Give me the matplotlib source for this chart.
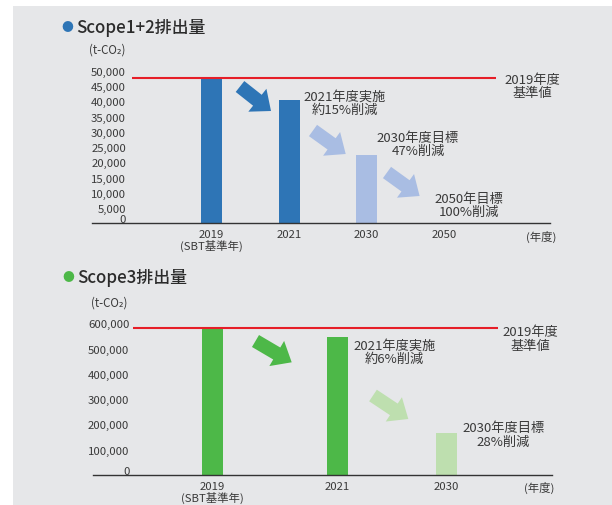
import matplotlib
matplotlib.use("Agg")
import matplotlib.pyplot as plt
from matplotlib.patches import Rectangle, FancyArrowPatch
from matplotlib.transforms import ScaledTranslation

plt.rcParams['font.family'] = ['Noto Sans CJK JP', 'DejaVu Sans']

# ---------------- data ----------------
s12_title = "Scope1+2排出量"
s12_years = ["2019\n(SBT基準年)", "2021", "2030", "2050"]
s12_values = [47900, 40400, 22500, 0]
s12_base = 47700
s12_ticks = list(range(0, 50001, 5000))
s12_notes = ["2021年度実施\n約15%削減", "2030年度目標\n47%削減", "2050年目標\n100%削減"]

s3_title = "Scope3排出量"
s3_years = ["2019\n(SBT基準年)", "2021", "2030"]
s3_values = [577000, 546000, 166000]
s3_base = 580000
s3_ticks = list(range(0, 600001, 100000))
s3_notes = ["2021年度実施\n約6%削減", "2030年度目標\n28%削減"]

base_label = "2019年度\n基準値"
unit_label = "(t-CO₂)"
year_unit = "(年度)"

# ---------------- style ----------------
W, H = 612, 506
TXT = '#3a3a3a'
BG = '#E6E7E9'
RED = '#E61E28'
BLUE, LBLUE = '#2E75B6', '#A9BDE3'
GREEN, LGREEN = '#4DB848', '#BEDFAF'


def fx(x):
    return x / W


def fy(y):
    return 1 - y / H


fig = plt.figure(figsize=(W / 100, H / 100), dpi=100, facecolor='white')
fig.patches.append(Rectangle((fx(13), 0), 1 - fx(13), fy(7), transform=fig.transFigure,
                             facecolor=BG, edgecolor='none', zorder=-10))


def panel(axbox, positions, labels, values, colors, base, ticks, ymax, pad_px,
          title, title_xy, dot_color, unit_xy, yunit_x):
    l, r, b, pxh = axbox
    ax = fig.add_axes([fx(l), fy(b), fx(r) - fx(l), pxh / H])
    ax.set_facecolor('none')
    ax.bar(positions, values, width=0.27, color=colors, zorder=2)
    ax.hlines(base, -1.02, 3.67, color=RED, lw=1.5, zorder=3)
    ax.set_xlim(-1.54, 4.36)
    ax.set_ylim(0, ymax)
    for s in ['top', 'right', 'left']:
        ax.spines[s].set_visible(False)
    ax.spines['bottom'].set_color('#333333')
    ax.spines['bottom'].set_linewidth(1.0)
    ax.set_xticks(positions)
    ax.set_xticklabels(labels, fontsize=8.2, color=TXT, linespacing=1.0)
    ax.set_yticks(ticks)
    ax.set_yticklabels([f"{t:,}" for t in ticks], fontsize=8.2, color=TXT)
    ax.tick_params(axis='x', length=0, pad=4.2)
    ax.tick_params(axis='y', length=0, pad=-pad_px / 1.389)
    # raise the zero label a little
    t0 = ax.yaxis.get_major_ticks()[0].label1
    t0.set_transform(t0.get_transform() + ScaledTranslation(0, 0.05, fig.dpi_scale_trans))
    # title
    fig.text(fx(title_xy[0] - 9), fy(title_xy[1]), "●", color=dot_color, fontsize=8.5,
             ha='center', va='center')
    fig.text(fx(title_xy[0]), fy(title_xy[1]), title, color='#2b2b2b', fontsize=12.2,
             fontweight='medium', ha='left', va='center')
    fig.text(fx(unit_xy[0]), fy(unit_xy[1]), unit_label, color=TXT, fontsize=8.3,
             ha='left', va='center')
    ax.text(yunit_x, -0.02 - 3 / pxh, year_unit, transform=ax.transAxes, fontsize=8.2,
            color=TXT, ha='center', va='top')
    return ax


def note(x, y, s):
    fig.text(fx(x), fy(y), s, fontsize=9.5, color=TXT, ha='center', va='center',
             multialignment='center', linespacing=1.05)


def arrow(tail, tip, color):
    fig.add_artist(FancyArrowPatch(
        (fx(tail[0]), fy(tail[1])), (fx(tip[0]), fy(tip[1])),
        transform=fig.transFigure,
        arrowstyle='simple,head_length=1.25,head_width=2.1,tail_width=1.0',
        mutation_scale=10, color=color, shrinkA=0, shrinkB=0, lw=0))


# ---------- Scope 1+2 ----------
panel((91.8, 550, 224.3, 52000 * 3.05 / 1000), [0, 1, 2, 3], s12_years, s12_values,
      [BLUE, BLUE, LBLUE, LBLUE], s12_base, s12_ticks, 52000, 126 - 91.8,
      s12_title, (76, 28), BLUE, (89, 50), (541 - 91.8) / (550 - 91.8))
note(532, 87, base_label)
note(344.6, 104, s12_notes[0])
note(418, 145, s12_notes[1])
note(468.6, 206, s12_notes[2])
arrow((240, 87.5), (271, 112), BLUE)
arrow((313, 131.5), (345.7, 155), LBLUE)
arrow((387, 173.5), (419.6, 197), LBLUE)

# ---------- Scope 3 ----------
panel((92.9, 551.8, 476, 620000 * 25.3 / 100000), [0, 1.6, 3], s3_years, s3_values,
      [GREEN, GREEN, LGREEN], s3_base, s3_ticks, 620000, 129.3 - 92.9,
      s3_title, (77, 278), GREEN, (91, 302.7), (539 - 92.9) / (551.8 - 92.9))
note(530, 339.5, base_label)
note(394.6, 353, s3_notes[0])
note(503.6, 435.5, s3_notes[1])
arrow((255.5, 342), (291.7, 363.3), GREEN)
arrow((373, 396.5), (408.3, 420), LGREEN)

fig.savefig('out.png', dpi=100, facecolor='white')
